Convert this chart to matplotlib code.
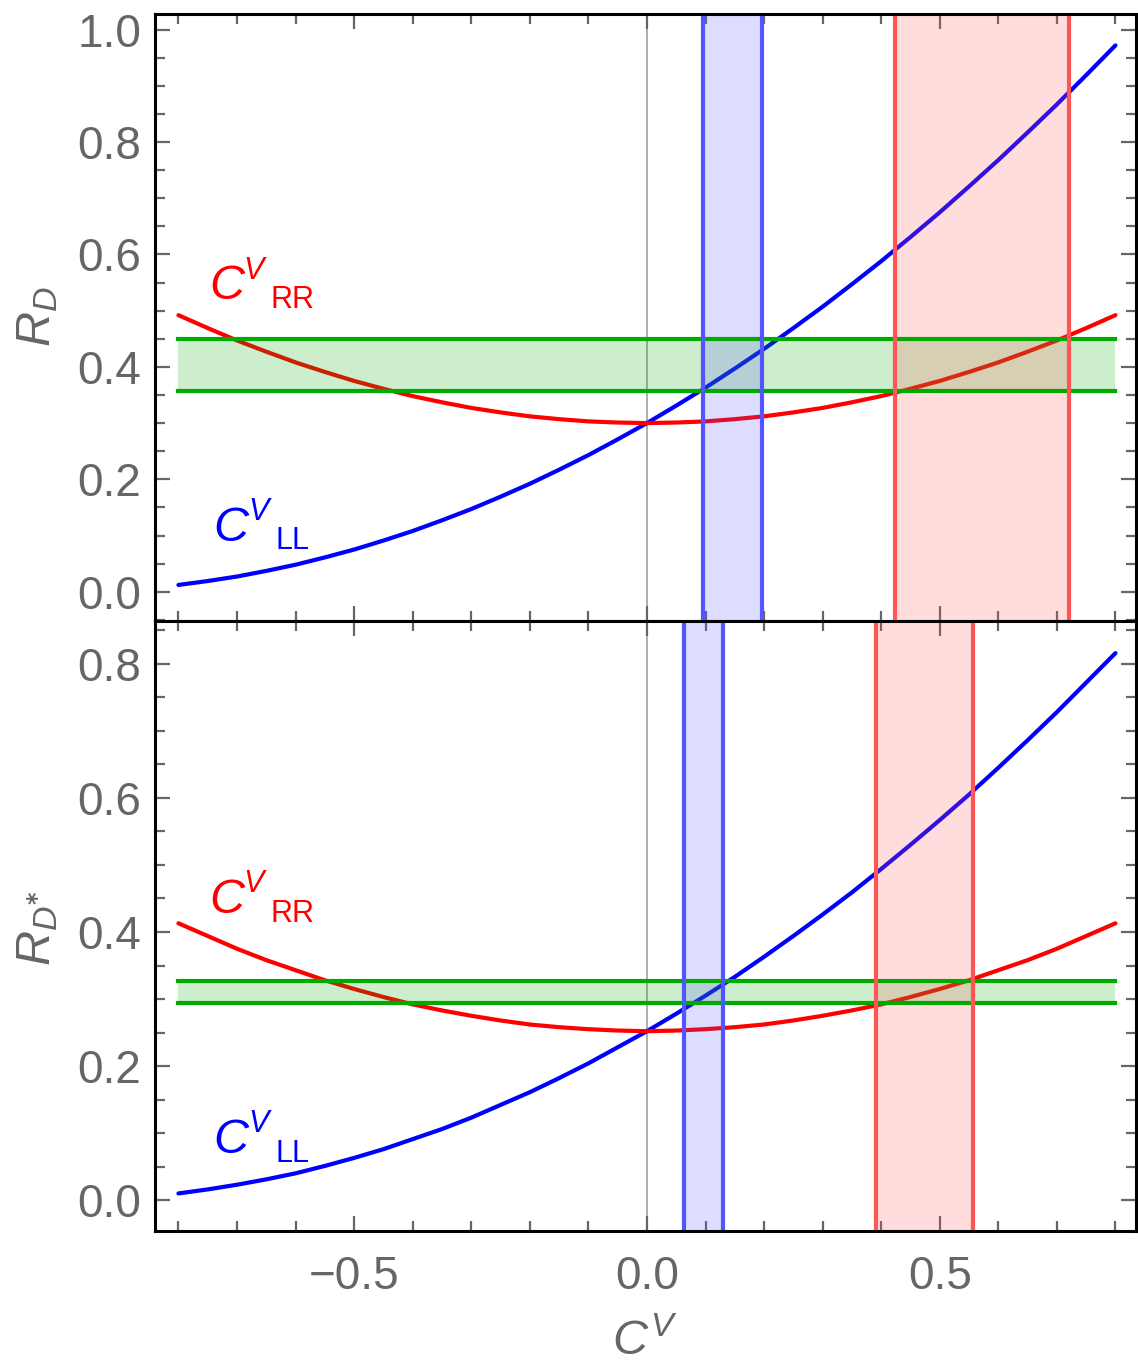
import numpy as np
import matplotlib
matplotlib.use('Agg')
import matplotlib.pyplot as plt
from matplotlib.ticker import MultipleLocator
from matplotlib.transforms import offset_copy

plt.rcParams['font.family'] = ['Liberation Sans', 'DejaVu Sans']
plt.rcParams['mathtext.fontset'] = 'custom'
plt.rcParams['mathtext.rm'] = 'Liberation Sans'
plt.rcParams['mathtext.it'] = 'Liberation Sans:italic'

# C^V grid
cv = [-0.8, -0.75, -0.7, -0.65, -0.6, -0.55, -0.5, -0.45, -0.4, -0.35, -0.3,
      -0.25, -0.2, -0.15, -0.1, -0.05, 0.0, 0.05, 0.1, 0.15, 0.2, 0.25, 0.3,
      0.35, 0.4, 0.45, 0.5, 0.55, 0.6, 0.65, 0.7, 0.75, 0.8]

# R_D panel
rd_ll = [0.012, 0.019, 0.027, 0.037, 0.048, 0.061, 0.075, 0.091, 0.108, 0.127,
         0.147, 0.169, 0.192, 0.217, 0.243, 0.271, 0.300, 0.331, 0.363, 0.397,
         0.432, 0.469, 0.507, 0.547, 0.588, 0.631, 0.675, 0.721, 0.768, 0.817,
         0.867, 0.919, 0.972]
rd_rr = [0.492, 0.469, 0.447, 0.427, 0.408, 0.391, 0.375, 0.361, 0.348, 0.337,
         0.327, 0.319, 0.312, 0.307, 0.303, 0.301, 0.300, 0.301, 0.303, 0.307,
         0.312, 0.319, 0.327, 0.337, 0.348, 0.361, 0.375, 0.391, 0.408, 0.427,
         0.447, 0.469, 0.492]
rd_band = [0.357, 0.450]
rd_ll_range = [0.096, 0.197]
rd_rr_range = [0.423, 0.720]

# R_D* panel
rds_ll = [0.010, 0.016, 0.023, 0.031, 0.040, 0.051, 0.063, 0.076, 0.091, 0.106,
          0.123, 0.142, 0.161, 0.182, 0.204, 0.228, 0.252, 0.278, 0.305, 0.333,
          0.363, 0.394, 0.426, 0.459, 0.494, 0.530, 0.567, 0.605, 0.645, 0.686,
          0.728, 0.772, 0.816]
rds_rr = [0.413, 0.394, 0.375, 0.358, 0.343, 0.328, 0.315, 0.303, 0.292, 0.283,
          0.275, 0.268, 0.262, 0.258, 0.255, 0.253, 0.252, 0.253, 0.255, 0.258,
          0.262, 0.268, 0.275, 0.283, 0.292, 0.303, 0.315, 0.328, 0.343, 0.358,
          0.375, 0.394, 0.413]
rds_band = [0.294, 0.327]
rds_ll_range = [0.063, 0.130]
rds_rr_range = [0.391, 0.556]

gray = '#666666'
green = '#00aa00'

fig = plt.figure(figsize=(11.38, 13.62), dpi=100)
ax1 = fig.add_axes([0.1362, 0.5441, 0.862, 0.4457])
ax2 = fig.add_axes([0.1362, 0.0962, 0.862, 0.4479])


def draw_panel(ax, ll, rr, band, ll_rng, rr_rng, ylim, lab_rr, lab_ll):
    ax.axvline(0, color='#999999', lw=1.1, zorder=1)
    ax.plot(cv, ll, color='#0000ff', lw=3.0, zorder=2, solid_capstyle='round')
    ax.plot(cv, rr, color='#ff0000', lw=3.0, zorder=2, solid_capstyle='round')
    # green band
    ax.fill_between([cv[0], cv[-1]], band[0], band[1], color=green,
                    alpha=0.2, lw=0, zorder=3)
    for b in band:
        ax.plot([cv[0], cv[-1]], [b, b], color=green, lw=3.0, zorder=4)
    # vertical bands
    ax.axvspan(ll_rng[0], ll_rng[1], color='#5555ff', alpha=0.2, lw=0, zorder=3)
    ax.axvspan(rr_rng[0], rr_rng[1], color='#ff5555', alpha=0.2, lw=0, zorder=3)
    for v in ll_rng:
        ax.axvline(v, color='#5555ff', lw=3.0, zorder=5)
    for v in rr_rng:
        ax.axvline(v, color='#ff5555', lw=3.0, zorder=5)

    ax.set_xlim(-0.84, 0.835)
    ax.set_ylim(*ylim)
    ax.xaxis.set_major_locator(MultipleLocator(0.5))
    ax.xaxis.set_minor_locator(MultipleLocator(0.1))
    ax.yaxis.set_major_locator(MultipleLocator(0.2))
    ax.yaxis.set_minor_locator(MultipleLocator(0.05))
    ax.xaxis.set_major_formatter(plt.FuncFormatter(lambda v, p: f'{v:.1f}'.replace('-', '\u2212')))
    ax.yaxis.set_major_formatter(plt.FuncFormatter(lambda v, p: f'{v:.1f}'))
    ax.tick_params(which='both', direction='in', top=True, right=True,
                   color=gray, labelcolor=gray, labelsize=33, width=1.6)
    ax.tick_params(which='major', length=11)
    ax.tick_params(which='minor', length=7)
    ax.tick_params(axis='y', pad=10)
    ax.tick_params(axis='x', pad=17)
    for s in ax.spines.values():
        s.set_linewidth(2.2)
        s.set_zorder(10)

    # curve labels: C, superscript V, subscript
    for (x, y), sub, col in [(lab_rr, 'RR', '#ff0000'), (lab_ll, 'LL', '#0000ff')]:
        ax.text(x, y, 'C', color=col, fontsize=35, style='italic',
                ha='left', va='baseline')
        tv = offset_copy(ax.transData, fig=fig, x=25, y=15, units='points')
        ax.text(x, y, 'V', color=col, fontsize=22, style='italic',
                ha='left', va='baseline', transform=tv)
        ts = offset_copy(ax.transData, fig=fig, x=44.5, y=-6, units='points')
        ax.text(x, y, sub, color=col, fontsize=22,
                ha='left', va='baseline', transform=ts)


draw_panel(ax1, rd_ll, rd_rr, rd_band, rd_ll_range, rd_rr_range,
           (-0.052, 1.028), (-0.748, 0.520), (-0.740, 0.091))
draw_panel(ax2, rds_ll, rds_rr, rds_band, rds_ll_range, rds_rr_range,
           (-0.046, 0.864), (-0.748, 0.428), (-0.740, 0.070))
ax1.tick_params(axis='x', labelbottom=False)

fig.text(38 / 1138, 1 - 317 / 1362, r'$R_D$', rotation=90, color=gray,
         fontsize=35, ha='center', va='center')
fig.text(38 / 1138, 1 - 928 / 1362, r'$R_{D^{\mathbf{*}}}$', rotation=90,
         color=gray, fontsize=35, ha='center', va='center')
fig.text(645 / 1138, 1 - 1342 / 1362, r'$C^V$', color=gray,
         fontsize=35, ha='center', va='center')

fig.savefig('out.png', dpi=100)
